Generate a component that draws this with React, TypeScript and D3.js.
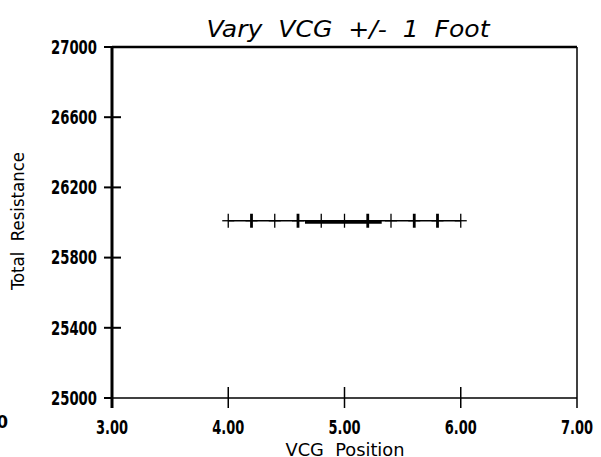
import React from 'react'
import * as d3 from 'd3'

// VCG positions and total resistance
const vcgPositions = [4.0, 4.2, 4.4, 4.6, 4.8, 5.0, 5.2, 5.4, 5.6, 5.8, 6.0]
const totalResistance = [26010, 26010, 26010, 26010, 26010, 26010, 26010, 26010, 26010, 26010, 26010]
// short heavy segment drawn over the middle of the run
const heavyX = [4.66, 4.8, 5.0, 5.2, 5.32]
const heavyY = [26002, 26002, 26002, 26002, 26002]

const xTicks = [3, 4, 5, 6, 7]
const yTicks = [25000, 25400, 25800, 26200, 26600, 27000]

const title = 'Vary  VCG  +/-  1  Foot'
const xTitle = 'VCG  Position'
const yTitle = 'Total  Resistance'

// markers that print heavier in the original plot
const heavyMarks = [1, 3, 6, 8, 9]

const W = 601
const H = 457
const left = 112, right = 577, top = 47, bottom = 398
const tickFont = '"DejaVu Sans Condensed", "DejaVu Sans", sans-serif'

export default function App() {
  const x = d3.scaleLinear().domain([3, 7]).range([left, right])
  const y = d3.scaleLinear().domain([25000, 27000]).range([bottom, top])
  const fmt = d3.format('.2f')

  const line = d3.line<[number, number]>().x(d => x(d[0])).y(d => y(d[1]))
  const pts: [number, number][] = vcgPositions.map((v, i) => [v, totalResistance[i]])
  const heavy: [number, number][] = heavyX.map((v, i) => [v, heavyY[i]])

  return (
    <svg width={W} height={H} style={{ position: 'absolute', left: 0, top: 0, display: 'block', background: '#fff' }}>
      {/* frame */}
      <line x1={left} x2={right} y1={top} y2={top} stroke="#000" strokeWidth={2.5} />
      <line x1={right} x2={right} y1={top} y2={bottom + 10} stroke="#000" strokeWidth={1.5} />
      <line x1={left} x2={right} y1={bottom} y2={bottom} stroke="#000" strokeWidth={1.5} />
      <line x1={left} x2={left} y1={top} y2={bottom + 10} stroke="#000" strokeWidth={3} />

      {/* y ticks */}
      {yTicks.map(t => {
        const yy = y(t)
        const inner = t === 27000 || t === 25000 ? left : left + 9
        return (
          <g key={t}>
            <line x1={left - 8} x2={inner} y1={yy} y2={yy} stroke="#000" strokeWidth={2} />
            <text x={97} y={yy} dy="0.36em" textAnchor="end" fontFamily={tickFont} fontWeight="bold"
              fontSize={19} textLength={46} lengthAdjust="spacingAndGlyphs">{t}</text>
          </g>
        )
      })}

      {/* x ticks */}
      {xTicks.map(t => {
        const xx = x(t)
        return (
          <g key={t}>
            {t !== 3 && t !== 7 && (
              <line x1={xx} x2={xx} y1={bottom - 11} y2={bottom + 10} stroke="#000" strokeWidth={1.5} />
            )}
            <text x={xx} y={434} textAnchor="middle" fontFamily={tickFont} fontWeight="bold"
              fontSize={19} textLength={32} lengthAdjust="spacingAndGlyphs">{fmt(t)}</text>
          </g>
        )
      })}

      {/* leftover clipped label at far left */}
      <text x={8} y={428} textAnchor="end" fontFamily={tickFont} fontWeight="bold" fontSize={18}>0</text>

      {/* data */}
      <path d={line(pts) || ''} fill="none" stroke="#000" strokeWidth={1.3} />
      <path d={line(heavy) || ''} fill="none" stroke="#000" strokeWidth={3} />
      {pts.map((p, i) => (
        <g key={i}>
          <line x1={x(p[0]) - 6} x2={x(p[0]) + 6} y1={y(p[1])} y2={y(p[1])} stroke="#000" strokeWidth={1.3} />
          <line x1={x(p[0])} x2={x(p[0])} y1={y(p[1]) - 7} y2={y(p[1]) + 7} stroke="#000"
            strokeWidth={heavyMarks.includes(i) ? 2.8 : 1.3} />
        </g>
      ))}

      {/* titles */}
      <text x={348} y={37} textAnchor="middle" fontFamily={tickFont} fontStyle="italic" fontSize={23}
        textLength={283} lengthAdjust="spacingAndGlyphs" style={{ whiteSpace: 'pre' }}>{title}</text>
      <text x={345} y={456} textAnchor="middle" fontFamily={tickFont} fontSize={18}
        textLength={119} lengthAdjust="spacingAndGlyphs" style={{ whiteSpace: 'pre' }}>{xTitle}</text>
      <text transform={`translate(24,221) rotate(-90)`} textAnchor="middle" fontFamily={tickFont} fontSize={17}
        textLength={138} lengthAdjust="spacingAndGlyphs" style={{ whiteSpace: 'pre' }}>{yTitle}</text>
    </svg>
  )
}
